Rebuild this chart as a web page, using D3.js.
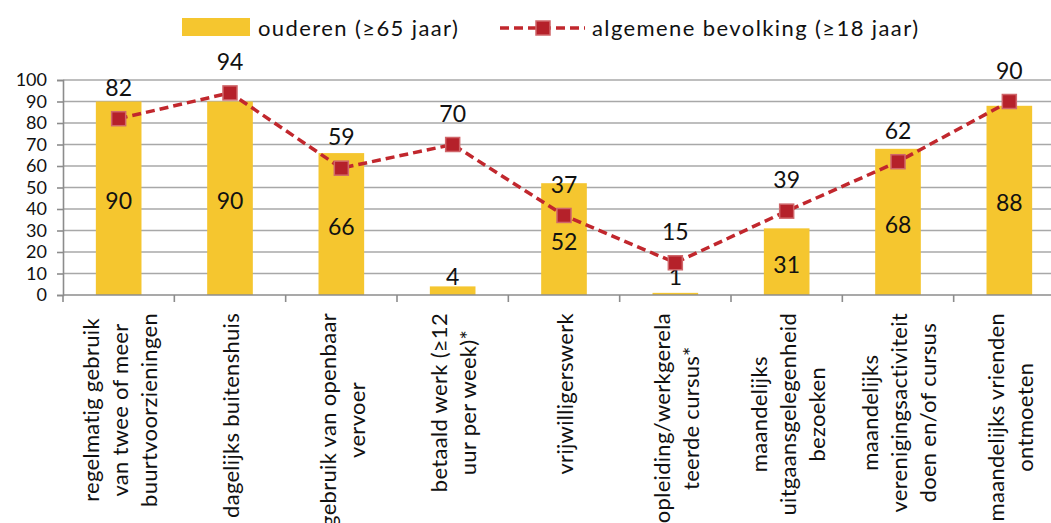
<!DOCTYPE html>
<html>
<head>
<meta charset="utf-8">
<script src="https://cdnjs.cloudflare.com/ajax/libs/d3/7.8.5/d3.min.js"></script>
<style>
  body { margin: 0; background: white; }
  svg { display: block; font-family: Lato, "Open Sans", sans-serif; }
</style>
</head>
<body>
<svg id="chart"></svg>
<script>
window.onload = function(){
    makeChart();
};

const WIDTH = 1051;
const HEIGHT = 523;

// categories (each entry is the lines of the label)
const categories = [
    ["regelmatig gebruik", "van twee of meer", "buurtvoorzieningen"],
    ["dagelijks buitenshuis"],
    ["gebruik van openbaar", "vervoer"],
    ["betaald werk (≥12", "uur per week)*"],
    ["vrijwilligerswerk"],
    ["opleiding/werkgerela", "teerde cursus*"],
    ["maandelijks", "uitgaansgelegenheid", "bezoeken"],
    ["maandelijks", "verenigingsactiviteit", "doen en/of cursus"],
    ["maandelijks vrienden", "ontmoeten"]
];
const ouderen = [90, 90, 66, 4, 52, 1, 31, 68, 88];
const algemeen = [82, 94, 59, 70, 37, 15, 39, 62, 90];
const yTicks = [0, 10, 20, 30, 40, 50, 60, 70, 80, 90, 100];
const legendLabels = ["ouderen (≥65 jaar)", "algemene bevolking (≥18 jaar)"];

function makeChart(){
    const margin = {left: 63, right: -14, top: 80, bottom: 228};
    const svg = d3.select('#chart')
        .attr('width', WIDTH)
        .attr('height', HEIGHT);

    const x = d3.scaleBand()
        .domain(d3.range(categories.length))
        .range([margin.left, WIDTH - margin.right]);

    const y = d3.scaleLinear()
        .domain([0, 100])
        .range([HEIGHT - margin.bottom, margin.top]);

    const barW = x.bandwidth() * 0.41;
    const cx = i => x(i) + x.bandwidth() / 2;

    // gridlines
    svg.append('g')
        .selectAll('line')
        .data(yTicks.filter(d => d > 0))
        .enter()
        .append('line')
        .attr('x1', margin.left)
        .attr('x2', WIDTH)
        .attr('y1', d => y(d))
        .attr('y2', d => y(d))
        .style('stroke', '#a8a8a8')
        .style('stroke-width', 1.6);

    // y axis
    const yAxis = svg.append('g')
        .attr('transform', 'translate(' + margin.left + ',0)')
        .call(d3.axisLeft(y).tickValues(yTicks).tickSize(6).tickPadding(10));
    yAxis.select('.domain').style('stroke', '#8c8c8c').style('stroke-width', 1.6);
    yAxis.selectAll('.tick line').style('stroke', '#8c8c8c').style('stroke-width', 1.6);
    yAxis.selectAll('text')
        .style('font-size', '18px')
        .style('fill', '#111')
        .style('font-family', 'Lato, sans-serif');

    // bars
    svg.append('g')
        .selectAll('rect')
        .data(ouderen)
        .enter()
        .append('rect')
        .attr('x', (d, i) => cx(i) - barW / 2)
        .attr('width', barW)
        .attr('y', d => y(d))
        .attr('height', d => y(0) - y(d))
        .style('fill', '#f5c62f');

    // x axis
    svg.append('line')
        .attr('x1', margin.left)
        .attr('x2', WIDTH)
        .attr('y1', y(0))
        .attr('y2', y(0))
        .style('stroke', '#8c8c8c')
        .style('stroke-width', 1.6);
    svg.append('g')
        .selectAll('line')
        .data(d3.range(categories.length))
        .enter()
        .append('line')
        .attr('x1', d => x(d))
        .attr('x2', d => x(d))
        .attr('y1', y(0))
        .attr('y2', y(0) + 7)
        .style('stroke', '#8c8c8c')
        .style('stroke-width', 1.6);

    // category labels, rotated, lines centred on each other
    const labelTop = y(0) + 18;
    categories.forEach((lines, i) => {
        const g = svg.append('g');
        const texts = g.selectAll('text')
            .data(lines)
            .enter()
            .append('text')
            .text(d => d)
            .style('font-size', '22px')
            .style('letter-spacing', '0.3px')
            .style('fill', '#111')
            .attr('text-anchor', 'middle');
        let maxLen = 0;
        texts.each(function(){ maxLen = Math.max(maxLen, this.getComputedTextLength()); });
        const lineH = 29;
        const n = lines.length;
        texts.attr('transform', (d, k) => {
            const xx = cx(i) + (k - (n - 1) / 2) * lineH + 9;
            return 'translate(' + xx + ',' + (labelTop + maxLen / 2) + ') rotate(-90)';
        });
    });

    // bar value labels
    svg.append('g')
        .selectAll('text')
        .data(ouderen)
        .enter()
        .append('text')
        .attr('x', (d, i) => cx(i))
        .attr('y', d => y(Math.max(d / 2, 10)) + 3)
        .attr('dy', '0.35em')
        .attr('text-anchor', 'middle')
        .style('font-size', '23px')
        .style('fill', '#111')
        .text(d => d);

    // line series
    const line = d3.line()
        .x((d, i) => cx(i))
        .y(d => y(d));

    svg.append('path')
        .datum(algemeen)
        .attr('d', line)
        .style('fill', 'none')
        .style('stroke', '#c1272d')
        .style('stroke-width', 3.5)
        .style('stroke-dasharray', '9,5');

    svg.append('g')
        .selectAll('rect')
        .data(algemeen)
        .enter()
        .append('rect')
        .attr('x', (d, i) => cx(i) - 7)
        .attr('y', d => y(d) - 7)
        .attr('width', 14)
        .attr('height', 14)
        .style('fill', '#b5212a')
        .style('stroke', '#d0666a')
        .style('stroke-width', 1.5);

    svg.append('g')
        .selectAll('text')
        .data(algemeen)
        .enter()
        .append('text')
        .attr('x', (d, i) => cx(i))
        .attr('y', d => y(d) - 31)
        .attr('dy', '0.35em')
        .attr('text-anchor', 'middle')
        .style('font-size', '23px')
        .style('fill', '#111')
        .text(d => d);

    // legend
    const legend = svg.append('g');
    legend.append('rect')
        .attr('x', 182)
        .attr('y', 18)
        .attr('width', 68)
        .attr('height', 18)
        .style('fill', '#f5c62f');
    legend.append('text')
        .attr('x', 258)
        .attr('y', 28)
        .attr('dy', '0.35em')
        .style('font-size', '22px')
        .style('letter-spacing', '1.4px')
        .style('fill', '#111')
        .text(legendLabels[0]);
    legend.append('line')
        .attr('x1', 500)
        .attr('x2', 585)
        .attr('y1', 28)
        .attr('y2', 28)
        .style('stroke', '#c1272d')
        .style('stroke-width', 3.5)
        .style('stroke-dasharray', '9,5');
    legend.append('rect')
        .attr('x', 536)
        .attr('y', 21)
        .attr('width', 14)
        .attr('height', 14)
        .style('fill', '#b5212a')
        .style('stroke', '#d0666a')
        .style('stroke-width', 1.5);
    legend.append('text')
        .attr('x', 592)
        .attr('y', 28)
        .attr('dy', '0.35em')
        .style('font-size', '22px')
        .style('letter-spacing', '1.4px')
        .style('fill', '#111')
        .text(legendLabels[1]);
}
</script>
</body>
</html>
